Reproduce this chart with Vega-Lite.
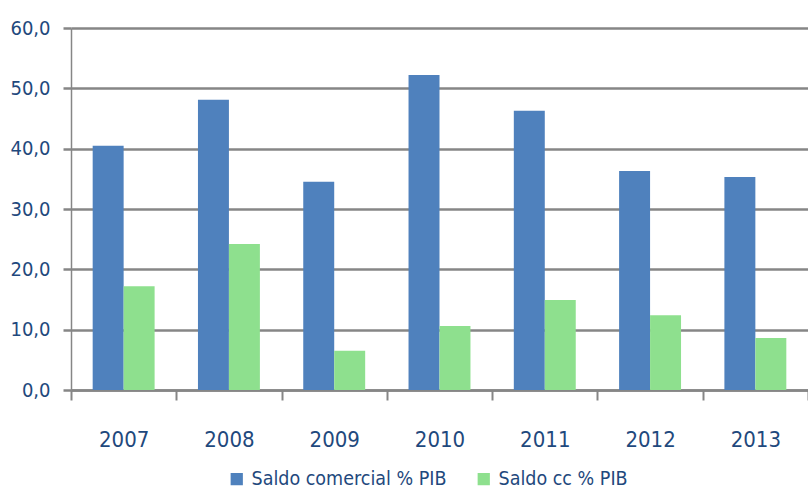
{
  "$schema": "https://vega.github.io/schema/vega-lite/v6.json",
  "width": 737,
  "height": 362,
  "autosize": {"type": "none"},
  "padding": {"left": 71, "top": 28, "right": 0, "bottom": 99},
  "background": "white",
  "data": {
    "values": [
      {"year": "2007", "serie": "Saldo comercial % PIB", "valor": 40.5},
      {"year": "2008", "serie": "Saldo comercial % PIB", "valor": 48.1},
      {"year": "2009", "serie": "Saldo comercial % PIB", "valor": 34.5},
      {"year": "2010", "serie": "Saldo comercial % PIB", "valor": 52.2},
      {"year": "2011", "serie": "Saldo comercial % PIB", "valor": 46.3},
      {"year": "2012", "serie": "Saldo comercial % PIB", "valor": 36.3},
      {"year": "2013", "serie": "Saldo comercial % PIB", "valor": 35.3},
      {"year": "2007", "serie": "Saldo cc % PIB", "valor": 17.2},
      {"year": "2008", "serie": "Saldo cc % PIB", "valor": 24.2},
      {"year": "2009", "serie": "Saldo cc % PIB", "valor": 6.5},
      {"year": "2010", "serie": "Saldo cc % PIB", "valor": 10.6},
      {"year": "2011", "serie": "Saldo cc % PIB", "valor": 14.9},
      {"year": "2012", "serie": "Saldo cc % PIB", "valor": 12.4},
      {"year": "2013", "serie": "Saldo cc % PIB", "valor": 8.6}
    ]
  },
  "mark": {"type": "bar"},
  "encoding": {
    "x": {
      "field": "year",
      "type": "nominal",
      "scale": {"paddingInner": 0, "paddingOuter": 0},
      "axis": {
        "title": null,
        "labelAngle": 0,
        "labelFont": "DejaVu Sans Condensed",
        "labelFontSize": 22,
        "labelColor": "#1F497D",
        "labelPadding": 29,
        "tickBand": "extent",
        "tickSize": 10,
        "tickColor": "#868686",
        "tickWidth": 2,
        "domainColor": "#868686",
        "domainWidth": 2.5,
        "grid": false
      }
    },
    "y": {
      "field": "valor",
      "type": "quantitative",
      "scale": {"domain": [0, 60], "nice": false},
      "axis": {
        "title": null,
        "values": [0, 10, 20, 30, 40, 50, 60],
        "labelExpr": "replace(format(datum.value, '.1f'), '.', ',')",
        "labelFont": "DejaVu Sans Condensed",
        "labelFontSize": 20,
        "labelColor": "#1F497D",
        "labelPadding": 13,
        "tickSize": 8,
        "tickColor": "#868686",
        "tickWidth": 2.5,
        "domainColor": "#868686",
        "domainWidth": 1.5,
        "grid": true,
        "gridColor": "#868686",
        "gridWidth": 2.5,
        "gridOpacity": 1
      }
    },
    "xOffset": {
      "field": "serie",
      "type": "nominal",
      "sort": ["Saldo comercial % PIB", "Saldo cc % PIB"],
      "scale": {"paddingInner": 0, "paddingOuter": 0.7}
    },
    "color": {
      "field": "serie",
      "type": "nominal",
      "sort": ["Saldo comercial % PIB", "Saldo cc % PIB"],
      "scale": {"domain": ["Saldo comercial % PIB", "Saldo cc % PIB"], "range": ["#4F81BD", "#8EE08E"]},
      "legend": {
        "title": null,
        "orient": "none",
        "legendX": 156,
        "legendY": 441,
        "direction": "horizontal",
        "symbolType": "square",
        "symbolSize": 150,
        "symbolStrokeWidth": 0,
        "labelFont": "DejaVu Sans Condensed",
        "labelFontSize": 19.5,
        "labelLimit": 0,
        "labelColor": "#1F497D",
        "columnPadding": 27,
        "labelOffset": 5
      }
    }
  },
  "config": {"view": {"stroke": null}}
}
